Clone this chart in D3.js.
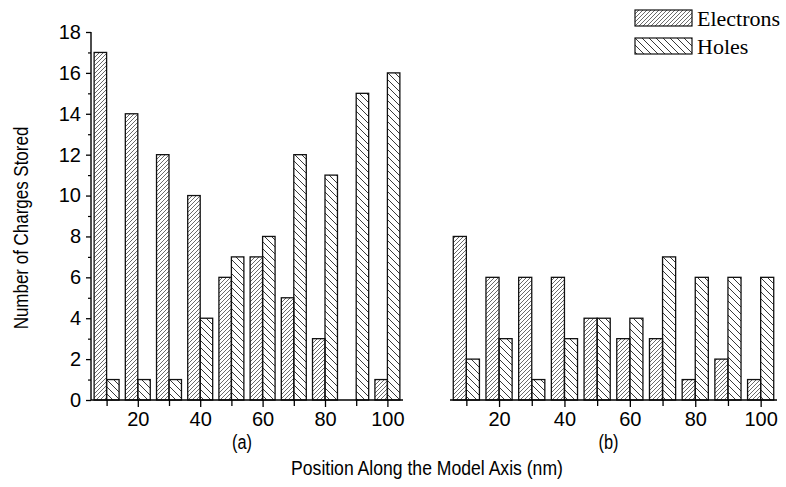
<!DOCTYPE html>
<html>
<head>
<meta charset="utf-8">
<script src="https://cdn.jsdelivr.net/npm/d3@7"></script>
<style>
  body { margin: 0; background: #fff; }
  svg text { font-family: "Liberation Sans", Arial, sans-serif; }
</style>
</head>
<body>
<div id="chart"></div>
<script>
// positions along the model axis (nm)
const positions = [10, 20, 30, 40, 50, 60, 70, 80, 90, 100];

// panel (a)
const electronsA = [17, 14, 12, 10, 6, 7, 5, 3, 0, 1];
const holesA     = [1, 1, 1, 4, 7, 8, 12, 11, 15, 16];

// panel (b)
const electronsB = [8, 6, 6, 6, 4, 3, 3, 1, 2, 1];
const holesB     = [2, 3, 1, 3, 4, 4, 7, 6, 6, 6];

const xTicks = [20, 40, 60, 80, 100];
const yTicks = [0, 2, 4, 6, 8, 10, 12, 14, 16, 18];

const width = 786, height = 487;

const svg = d3.select("#chart").append("svg")
    .attr("width", width)
    .attr("height", height);

// hatch patterns
const defs = svg.append("defs");
defs.append("pattern")
    .attr("id", "hatchE")
    .attr("patternUnits", "userSpaceOnUse")
    .attr("width", 4).attr("height", 4)
  .append("path")
    .attr("d", "M-1,1 l2,-2 M0,4 l4,-4 M3,5 l2,-2")
    .attr("stroke", "#444").attr("stroke-width", 0.8);
defs.append("pattern")
    .attr("id", "hatchH")
    .attr("patternUnits", "userSpaceOnUse")
    .attr("width", 7).attr("height", 7)
  .append("path")
    .attr("d", "M-1,6 l2,2 M0,0 l7,7 M6,-1 l2,2")
    .attr("stroke", "#222").attr("stroke-width", 0.9);

const y = d3.scaleLinear().domain([0, 18]).range([400, 32]);

const panels = [
  {e: electronsA, h: holesA, range: [91, 403], label: "(a)", yAxis: true},
  {e: electronsB, h: holesB, range: [450, 777], label: "(b)", yAxis: false}
];

const barW = 4; // nm

panels.forEach(p => {
  const x = d3.scaleLinear().domain([5, 105]).range(p.range);
  const g = svg.append("g");

  // electron bars (left of position)
  g.selectAll(".e")
    .data(positions.map((d, i) => ({pos: d, v: p.e[i]})).filter(d => d.v > 0))
    .join("rect")
      .attr("x", d => x(d.pos - barW))
      .attr("y", d => y(d.v))
      .attr("width", d => x(d.pos) - x(d.pos - barW))
      .attr("height", d => y(0) - y(d.v))
      .attr("fill", "url(#hatchE)")
      .attr("stroke", "#111").attr("stroke-width", 1.3);

  // hole bars (right of position)
  g.selectAll(".h")
    .data(positions.map((d, i) => ({pos: d, v: p.h[i]})).filter(d => d.v > 0))
    .join("rect")
      .attr("x", d => x(d.pos))
      .attr("y", d => y(d.v))
      .attr("width", d => x(d.pos + barW) - x(d.pos))
      .attr("height", d => y(0) - y(d.v))
      .attr("fill", "url(#hatchH)")
      .attr("stroke", "#111").attr("stroke-width", 1.3);

  // x axis
  const xAxis = g.append("g")
      .attr("transform", `translate(0,${y(0)})`)
      .call(d3.axisBottom(x).tickValues(xTicks).tickSize(7).tickPadding(5))
      .call(a => a.select(".domain").attr("d", `M${p.range[0]},0H${p.range[1]}`).attr("stroke-width", 1.4));
  xAxis.selectAll("text").attr("font-size", 20).attr("fill", "#000");
  xAxis.selectAll(".tick line").attr("stroke-width", 1.3);
  g.append("g")
      .attr("transform", `translate(0,${y(0)})`)
      .call(d3.axisBottom(x).tickValues([10, 30, 50, 70, 90]).tickSize(6).tickFormat(""))
      .call(a => a.select(".domain").remove())
      .call(a => a.selectAll("line").attr("stroke-width", 1.3));

  g.append("text")
      .attr("transform", `translate(${(p.range[0] + p.range[1]) / 2 - 5},449) scale(0.78,1)`)
      .attr("text-anchor", "middle")
      .attr("font-size", 21)
      .text(p.label);

  if (p.yAxis) {
    const yA = g.append("g")
        .attr("transform", `translate(${p.range[0]},0)`)
        .call(d3.axisLeft(y).tickValues(yTicks).tickSize(5).tickPadding(5))
        .call(a => a.select(".domain").attr("d", `M0,${y(0)}V${y(18)}`).attr("stroke-width", 1.4));
    yA.selectAll("text").attr("font-size", 20).attr("fill", "#000");
    yA.selectAll(".tick line").attr("stroke-width", 1.3);
    g.append("g")
        .attr("transform", `translate(${p.range[0]},0)`)
        .call(d3.axisLeft(y).tickValues(d3.range(1, 18, 2)).tickSize(3).tickFormat(""))
        .call(a => a.select(".domain").remove())
        .call(a => a.selectAll("line").attr("stroke-width", 1.2));
  }
});

// axis titles
svg.append("text")
    .attr("transform", "translate(28,228) rotate(-90) scale(0.87,1)")
    .attr("text-anchor", "middle")
    .attr("font-size", 19.5)
    .text("Number of Charges Stored");

svg.append("text")
    .attr("transform", "translate(427,475) scale(0.88,1)")
    .attr("text-anchor", "middle")
    .attr("font-size", 20)
    .text("Position Along the Model Axis (nm)");

// legend
const legendItems = [
  {name: "Electrons", fill: "url(#hatchE)"},
  {name: "Holes", fill: "url(#hatchH)"}
];
const legend = svg.append("g").attr("transform", "translate(635,10)");
legend.selectAll("rect")
  .data(legendItems)
  .join("rect")
    .attr("x", 0)
    .attr("y", (d, i) => i * 28)
    .attr("width", 57)
    .attr("height", 16)
    .attr("fill", d => d.fill)
    .attr("stroke", "#111").attr("stroke-width", 1.2);
legend.selectAll("text")
  .data(legendItems)
  .join("text")
    .attr("x", 62)
    .attr("y", (d, i) => i * 28 + 16)
    .attr("font-size", 22)
    .style("font-family", "'Liberation Serif', 'Times New Roman', serif")
    .text(d => d.name);
</script>
</body>
</html>
